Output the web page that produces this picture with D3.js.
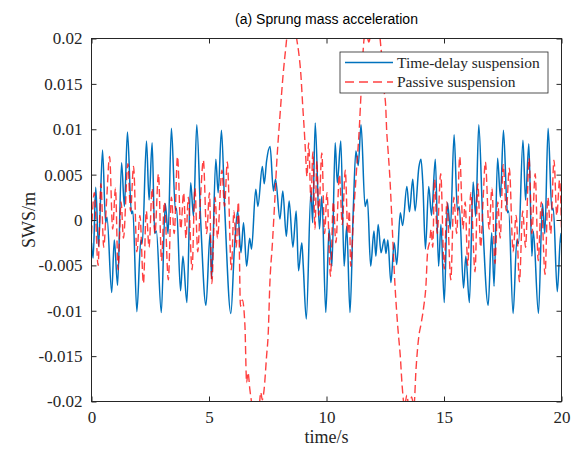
<!DOCTYPE html>
<html>
<head>
<meta charset="utf-8">
<script src="https://cdn.jsdelivr.net/npm/d3@7"></script>
<style>
  body { margin: 0; background: #fff; }
  text { font-family: "Liberation Serif", "Times New Roman", serif; }
</style>
</head>
<body>
<div id="chart"></div>
<script>
/**
 * DATA (values in units of 1e-3 m)
 * */
const delayT = [0.00,0.07,0.18,0.30,0.47,0.60,0.66,0.86,0.97,1.11,1.28,1.40,1.53,1.70,1.76,1.93,2.10,2.16,2.34,2.45,2.58,2.69,2.76,2.97,3.14,3.26,3.40,3.57,3.62,3.79,3.89,4.06,
  4.22,4.34,4.48,4.65,4.87,5.05,5.11,5.29,5.39,5.53,5.67,5.93,6.08,6.22,6.36,6.47,6.60,6.73,6.81,6.99,7.08,7.27,7.35,7.45,7.60,7.74,7.83,8.02,
  8.14,8.29,8.41,8.57,8.71,8.81,8.95,9.01,9.14,9.34,9.41,9.52,9.70,9.80,9.97,10.11,10.23,10.37,10.46,10.61,10.75,10.86,11.00,11.14,11.25,11.35,11.47,11.64,11.74,11.88,12.02,12.10,
  12.20,12.32,12.46,12.53,12.61,12.74,12.88,12.99,13.14,13.24,13.42,13.53,13.67,13.77,13.93,14.02,14.10,14.21,14.35,14.47,14.63,14.77,14.87,15.01,15.15,15.27,15.43,15.57,15.65,15.83,15.93,16.08,
  16.24,16.35,16.48,16.65,16.88,17.03,17.13,17.28,17.40,17.53,17.70,17.75,17.94,18.10,18.17,18.36,18.47,18.61,18.74,18.80,19.02,19.19,19.29,19.43,19.59,19.65,19.82,19.97,20.00];
const delayV = [-2.5,-4.2,3.6,-2.9,7.7,-0.3,0.3,-8.0,-2.2,-7.2,6.3,1.5,9.7,0.7,1.0,-10.1,-2.2,-2.6,8.7,2.2,8.5,-1.5,-1.2,-10.2,1.8,-1.5,10.1,1.1,1.3,-7.8,-4.0,-9.1,
  4.1,0.4,10.5,-0.3,-9.4,-1.4,-6.5,6.7,3.0,9.9,1.2,-10.3,-3.2,1.0,-3.6,-0.3,-5.1,-2.0,-3.2,3.4,1.5,5.9,4.0,6.5,8.1,3.2,4.5,0.1,
  3.2,-1.8,2.1,-3.0,1.0,-5.6,-2.5,-5.0,-10.9,3.2,-0.3,10.7,-1.0,2.6,-10.2,-1.0,-5.1,8.5,4.1,8.7,-5.1,-0.7,-10.2,1.2,7.6,6.0,10.5,1.5,2.3,-5.1,-1.2,-4.0,
  -0.5,-3.6,-2.1,-3.7,-2.2,-6.9,-2.5,-4.9,0.8,-0.6,3.7,0.9,4.5,1.0,5.8,6.7,4.0,-3.2,3.7,0.5,6.7,-5.1,-0.5,-9.1,1.9,-1.0,9.4,1.0,1.5,-7.5,-4.0,-9.1,
  4.2,0.4,10.5,-0.3,-9.4,-1.4,-7.3,6.8,2.5,9.9,0.8,1.0,-10.3,-2.2,-2.6,8.8,2.2,8.4,-4.0,-1.2,-10.3,1.8,-1.5,10.1,1.1,1.3,-7.9,-1.5,-2.5];

const passiveT = [0.00,0.12,0.28,0.40,0.52,0.64,0.77,0.90,1.02,1.13,1.26,1.36,1.55,1.66,1.79,1.93,2.06,2.21,2.33,2.45,2.58,2.70,2.85,2.98,3.10,3.27,3.40,3.52,3.66,3.80,3.92,
  4.02,4.12,4.28,4.40,4.52,4.64,4.76,4.90,5.02,5.12,5.26,5.36,5.55,5.66,5.78,5.95,6.06,6.16,6.25,6.34,6.42,6.53,6.60,6.66,6.74,6.87,7.02,7.14,7.20,7.27,7.34,7.45,7.52,7.59,7.70,7.80,7.88,
  8.02,8.16,8.28,8.43,8.58,8.73,8.81,8.91,8.99,9.04,9.10,9.17,9.24,9.34,9.42,9.51,9.59,9.67,9.80,9.92,10.02,10.17,10.29,10.40,10.55,10.67,10.80,10.91,10.97,11.03,11.15,11.28,11.40,11.47,11.57,11.68,11.80,11.93,
  12.10,12.26,12.35,12.45,12.52,12.56,12.61,12.70,12.78,12.91,13.04,13.14,13.22,13.32,13.42,13.52,13.62,13.72,13.81,13.93,14.02,14.14,14.23,14.30,14.40,14.45,14.52,14.60,14.71,14.86,15.01,15.12,15.29,15.42,15.54,15.67,15.81,15.90,
  16.01,16.14,16.32,16.44,16.56,16.66,16.76,16.92,17.04,17.17,17.29,17.39,17.52,17.65,17.78,17.94,18.07,18.21,18.35,18.47,18.62,18.74,18.88,19.01,19.14,19.30,19.42,19.54,19.68,19.80,19.92,20.00];
const passiveV = [-1.5,3.0,-5.0,4.0,-3.0,2.0,7.0,-1.0,3.5,-5.5,2.0,-2.0,6.2,1.0,5.9,-3.5,0.5,-7.0,1.0,-3.0,3.5,-1.5,5.1,-4.5,2.0,-6.6,2.5,-1.5,7.0,-1.0,3.0,
  -2.0,2.5,-5.5,3.5,-3.5,2.5,6.6,-1.5,3.0,-7.0,2.5,-2.0,5.5,1.5,6.4,-5.5,1.0,-3.0,2.0,-9.5,-8.8,-11.7,-17.9,-16.8,-18.7,-21.0,-22.5,-20.5,-19.0,-19.8,-18.8,-15.0,-12.5,-7.0,-2.5,2.2,6.2,
  11.5,16.2,19.3,23.0,23.5,20.0,18.6,16.0,12.5,10.5,7.8,4.8,8.5,2.0,7.5,-1.0,6.5,0.5,7.4,-1.5,3.0,-6.2,2.0,-2.5,5.0,-0.5,5.5,-1.5,1.0,-5.1,0.5,5.6,10.3,14.0,19.1,21.0,19.6,21.5,
  23.5,20.5,18.0,14.3,12.5,9.9,8.0,4.5,0.2,-7.0,-12.0,-15.0,-18.3,-20.5,-19.3,-21.0,-19.5,-20.5,-16.4,-12.8,-11.5,-9.5,-7.3,-3.6,-2.2,-1.0,-3.0,4.5,-1.5,5.1,-5.4,2.0,-6.6,2.5,-1.5,7.0,-1.0,2.0,
  -5.0,3.0,-5.7,4.0,-3.0,2.0,6.4,-1.0,3.5,-4.8,2.0,-2.0,6.1,1.0,5.7,-3.5,0.5,-6.8,1.0,-3.0,6.8,-1.5,5.1,-4.5,2.0,-6.0,2.5,-1.5,6.6,0.5,4.4,-1.0];

const xTicks = [0, 5, 10, 15, 20];
const yTicks = [-0.02, -0.015, -0.01, -0.005, 0, 0.005, 0.01, 0.015, 0.02];
const seriesNames = ["Time-delay suspension", "Passive suspension"];

/**
 * CONSTANTS
 * */
const width = 583, height = 452;
const margin = { top: 38.5, right: 21.5, bottom: 50.5, left: 91.5 };
const axisColor = "#262626";
const blue = "#0072bd", red = "#ff0000";

const svg = d3.select("#chart").append("svg")
  .attr("width", width)
  .attr("height", height)
  .style("background", "#fff");

const x = d3.scaleLinear().domain([0, 20]).range([margin.left, width - margin.right]);
const y = d3.scaleLinear().domain([-0.02, 0.02]).range([height - margin.bottom, margin.top]);

// clip lines to the axes box like matlab does
svg.append("clipPath").attr("id", "plot-clip")
  .append("rect")
  .attr("x", margin.left).attr("y", margin.top)
  .attr("width", x(20) - x(0)).attr("height", y(-0.02) - y(0.02));

const line = d3.line()
  .x(d => x(d.t))
  .y(d => y(d.v / 1000))
  .curve(d3.curveMonotoneX);

const delay = delayT.map((t, i) => ({ t: t, v: delayV[i] }));
const passive = passiveT.map((t, i) => ({ t: t, v: passiveV[i] }));

const plot = svg.append("g").attr("clip-path", "url(#plot-clip)");

plot.append("path")
  .datum(delay)
  .attr("d", line)
  .attr("fill", "none")
  .attr("stroke", blue)
  .attr("stroke-width", 1.5);

plot.append("path")
  .datum(passive)
  .attr("d", line)
  .attr("fill", "none")
  .attr("stroke", red)
  .attr("stroke-opacity", 0.75)
  .attr("stroke-width", 1.4)
  .attr("stroke-dasharray", "8,4");

/**
 * AXES
 * */
const fmt = d => d === 0 ? "0" : String(d);

svg.append("g")
  .attr("transform", `translate(0,${y(-0.02)})`)
  .call(d3.axisBottom(x).tickValues(xTicks).tickSizeInner(-5).tickSizeOuter(0).tickPadding(9))
  .call(g => g.select(".domain").remove());

svg.append("g")
  .attr("transform", `translate(0,${y(0.02)})`)
  .call(d3.axisTop(x).tickValues(xTicks).tickSizeInner(-5).tickSizeOuter(0).tickFormat(""))
  .call(g => g.select(".domain").remove());

svg.append("g")
  .attr("transform", `translate(${x(0)},0)`)
  .call(d3.axisLeft(y).tickValues(yTicks).tickSizeInner(-5).tickSizeOuter(0).tickPadding(9).tickFormat(fmt))
  .call(g => g.select(".domain").remove());

svg.append("g")
  .attr("transform", `translate(${x(20)},0)`)
  .call(d3.axisRight(y).tickValues(yTicks).tickSizeInner(-5).tickSizeOuter(0).tickFormat(""))
  .call(g => g.select(".domain").remove());

svg.selectAll(".tick line").attr("stroke", axisColor);
svg.selectAll(".tick text")
  .attr("fill", axisColor)
  .style("font-family", "'Liberation Serif', serif")
  .style("font-size", "17px");

svg.append("rect")
  .attr("x", x(0)).attr("y", y(0.02))
  .attr("width", x(20) - x(0)).attr("height", y(-0.02) - y(0.02))
  .attr("fill", "none")
  .attr("stroke", axisColor)
  .attr("stroke-width", 1);

// labels + title
svg.append("text")
  .attr("x", (x(0) + x(20)) / 2).attr("y", 443)
  .attr("text-anchor", "middle")
  .attr("fill", axisColor)
  .style("font-size", "18px")
  .text("time/s");

svg.append("text")
  .attr("transform", `translate(35,${y(0)}) rotate(-90)`)
  .attr("text-anchor", "middle")
  .attr("fill", axisColor)
  .style("font-size", "18px")
  .text("SWS/m");

svg.append("text")
  .attr("x", (x(0) + x(20)) / 2).attr("y", 24)
  .attr("text-anchor", "middle")
  .attr("fill", "#000")
  .style("font-family", "'Liberation Sans', Arial, sans-serif")
  .style("font-size", "14px")
  .text("(a) Sprung mass acceleration");

/**
 * LEGEND
 * */
const legend = svg.append("g").attr("transform", "translate(340,52)");
legend.append("rect")
  .attr("width", 208).attr("height", 41)
  .attr("fill", "#fff")
  .attr("stroke", axisColor)
  .attr("stroke-width", 0.8);

const rows = legend.selectAll(".row")
  .data(seriesNames)
  .join("g")
  .attr("class", "row")
  .attr("transform", (d, i) => `translate(0,${10.5 + i * 19.5})`);

rows.append("line")
  .attr("x1", 5).attr("x2", 53)
  .attr("stroke", (d, i) => i === 0 ? blue : red)
  .attr("stroke-opacity", (d, i) => i === 0 ? 1 : 0.75)
  .attr("stroke-width", (d, i) => i === 0 ? 1.5 : 1.4)
  .attr("stroke-dasharray", (d, i) => i === 0 ? null : "9,5");

rows.append("text")
  .attr("x", 57).attr("y", 5)
  .attr("fill", axisColor)
  .style("font-size", "15.5px")
  .text(d => d);
</script>
</body>
</html>
